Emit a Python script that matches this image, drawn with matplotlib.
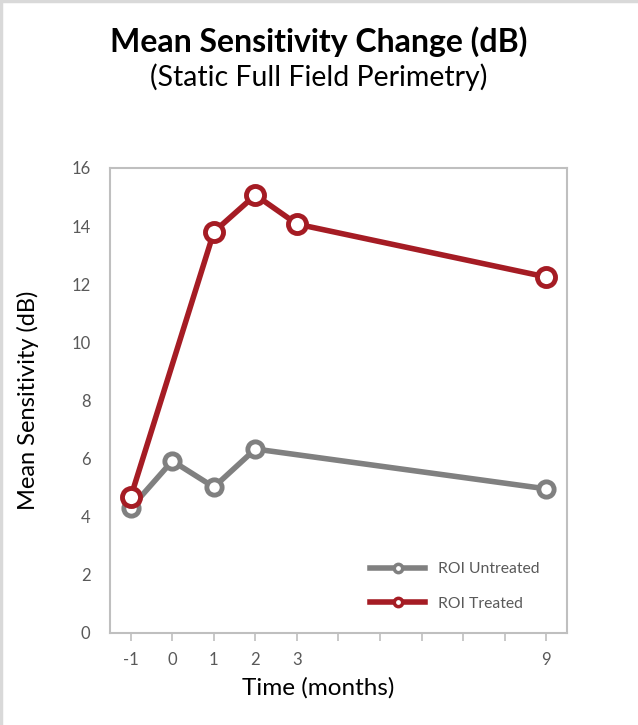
import matplotlib.pyplot as plt
from matplotlib.lines import Line2D

plt.rcParams["font.family"] = ["Lato", "DejaVu Sans"]

# data
months_untreated = [-1, 0, 1, 2, 9]
roi_untreated = [4.3, 5.92, 5.02, 6.33, 4.96]
months_treated = [-1, 1, 2, 3, 9]
roi_treated = [4.68, 13.8, 15.07, 14.07, 12.25]
x_ticks = list(range(-1, 10))
x_tick_labels = ["-1", "0", "1", "2", "3", "", "", "", "", "", "9"]
y_ticks = list(range(0, 17, 2))

grey = "#808080"
red = "#a51c24"
frame = "#bfbfbf"
tick_text = "#595959"

fig = plt.figure(figsize=(6.38, 7.25), dpi=100)
ax = fig.add_axes([0.1724, 0.1269, 0.7163, 0.6414])

ax.plot(months_untreated, roi_untreated, color=grey, lw=4, marker="o", ms=11,
        mfc="white", mec=grey, mew=3.5, label="ROI Untreated", zorder=3)
ax.plot(months_treated, roi_treated, color=red, lw=4, marker="o", ms=13,
        mfc="white", mec=red, mew=3.5, label="ROI Treated", zorder=4)

ax.set_xlim(-1.5, 9.5)
ax.set_ylim(0, 16)
ax.set_xticks(x_ticks)
ax.set_xticklabels(x_tick_labels)
ax.set_yticks(y_ticks)
ax.tick_params(axis="x", colors=frame, labelcolor=tick_text, labelsize=12,
               length=6, width=1.2, direction="out", pad=8)
ax.tick_params(axis="y", length=0, labelcolor=tick_text, labelsize=12, pad=14)
for s in ax.spines.values():
    s.set_color(frame)
    s.set_linewidth(1.5)

ax.set_xlabel("Time (months)", fontsize=17.5, color="black")
ax.xaxis.set_label_coords(0.455, -0.095)
ax.set_ylabel("Mean Sensitivity (dB)", fontsize=17, color="black")
ax.yaxis.set_label_coords(-0.155, 0.5)

# legend with small markers
handles = [
    Line2D([], [], color=grey, lw=4, marker="o", ms=6, mfc="white", mec=grey, mew=2.5),
    Line2D([], [], color=red, lw=4, marker="o", ms=6, mfc="white", mec=red, mew=2.5),
]
ax.legend(handles, ["ROI Untreated", "ROI Treated"], loc="lower right",
          bbox_to_anchor=(0.97, 0.018), frameon=False, fontsize=11.3,
          labelcolor=tick_text, handlelength=3.5, labelspacing=1.3)

fig.text(0.5, 0.943, "Mean Sensitivity Change (dB)", ha="center", va="center",
         fontsize=23, fontweight="bold")
fig.text(0.5, 0.894, "(Static Full Field Perimetry)", ha="center", va="center",
         fontsize=20.5)

# light frame on the left and top edge of the image
fig.add_artist(Line2D([0.0015, 0.0015], [0, 1], transform=fig.transFigure,
                      color="#d9d9d9", lw=2.5))
fig.add_artist(Line2D([0, 1], [0.998, 0.998], transform=fig.transFigure,
                      color="#d9d9d9", lw=2.5))

fig.savefig("out.png", dpi=100)
